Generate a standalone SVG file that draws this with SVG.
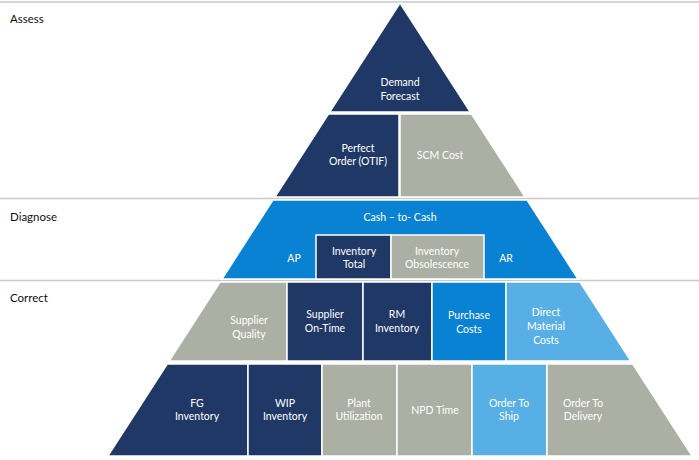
<svg xmlns="http://www.w3.org/2000/svg" width="699" height="460" viewBox="0 0 699 460">
<style>
.nv{fill:#1f3866;stroke:#fff;stroke-width:1.5}
.gr{fill:#abafa4;stroke:#fff;stroke-width:1.5}
.bb{fill:#0a82d4;stroke:#fff;stroke-width:1.5}
.lb{fill:#58afe6;stroke:#fff;stroke-width:1.5}
.sep{stroke:#c9c9c9;stroke-width:1.5}
.t{font-family:Lato,"Open Sans","Liberation Sans",sans-serif;font-size:10.5px;fill:#fff;text-anchor:middle}
.h{font-family:Lato,"Open Sans","Liberation Sans",sans-serif;font-size:11.5px;fill:#111}
</style>
<rect width="699" height="460" fill="#fff"/>
<g id="section-lines">
<line class="sep" x1="0" y1="2" x2="699" y2="2"/>
<line class="sep" x1="0" y1="198.5" x2="699" y2="198.5"/>
<line class="sep" x1="0" y1="280.5" x2="699" y2="280.5"/>
</g>
<g id="labels">
<text class="h" x="10" y="23">Assess</text>
<text class="h" x="10" y="221">Diagnose</text>
<text class="h" x="10" y="302">Correct</text>
</g>
<g id="demand-forecast">
<polygon class="nv" points="400,3 470.3,112 329.7,112"/>
<text class="t" x="400" y="86">Demand</text>
<text class="t" x="400" y="100">Forecast</text>
</g>
<g id="perfect-order">
<polygon class="nv" points="328.4,114 399,114 399,197 274.9,197"/>
<text class="t" x="358" y="152">Perfect</text>
<text class="t" x="358" y="165">Order (OTIF)</text>
</g>
<g id="scm-cost">
<polygon class="gr" points="400,114 471.6,114 525.1,197 400,197"/>
<text class="t" x="440" y="159">SCM Cost</text>
</g>
<g id="cash-to-cash">
<polygon class="bb" points="272.9,200 527.1,200 578,279 222,279"/>
<text class="t" x="400" y="221">Cash – to- Cash</text>
<text class="t" x="294" y="262">AP</text>
<text class="t" x="506" y="262">AR</text>
</g>
<g id="inventory-total">
<rect class="nv" x="316" y="235" width="75" height="44"/>
<text class="t" x="354" y="255">Inventory</text>
<text class="t" x="354" y="268">Total</text>
</g>
<g id="inventory-obsolescence">
<rect class="gr" x="391" y="235" width="93" height="44"/>
<text class="t" x="437" y="255">Inventory</text>
<text class="t" x="437" y="268">Obsolescence</text>
</g>
<g id="supplier-quality">
<polygon class="gr" points="220,282 287,282 287,361 169.1,361"/>
<text class="t" x="249" y="324">Supplier</text>
<text class="t" x="249" y="338">Quality</text>
</g>
<g id="supplier-on-time">
<rect class="nv" x="287" y="282" width="76" height="79"/>
<text class="t" x="325" y="318">Supplier</text>
<text class="t" x="325" y="332">On-Time</text>
</g>
<g id="rm-inventory">
<rect class="nv" x="363" y="282" width="69" height="79"/>
<text class="t" x="397" y="318">RM</text>
<text class="t" x="397" y="332">Inventory</text>
</g>
<g id="purchase-costs">
<rect class="bb" x="432" y="282" width="74" height="79"/>
<text class="t" x="469" y="319">Purchase</text>
<text class="t" x="469" y="333">Costs</text>
</g>
<g id="direct-material-costs">
<polygon class="lb" points="506,282 580,282 630.9,361 506,361"/>
<text class="t" x="546" y="316">Direct</text>
<text class="t" x="546" y="330">Material</text>
<text class="t" x="546" y="344">Costs</text>
</g>
<g id="fg-inventory">
<polygon class="nv" points="167.2,364 248,364 248,456 107.8,456"/>
<text class="t" x="197" y="407">FG</text>
<text class="t" x="197" y="420">Inventory</text>
</g>
<g id="wip-inventory">
<rect class="nv" x="248" y="364" width="74" height="92"/>
<text class="t" x="285" y="407">WIP</text>
<text class="t" x="285" y="420">Inventory</text>
</g>
<g id="plant-utilization">
<rect class="gr" x="322" y="364" width="75" height="92"/>
<text class="t" x="359" y="407">Plant</text>
<text class="t" x="359" y="420">Utilization</text>
</g>
<g id="npd-time">
<rect class="gr" x="397" y="364" width="75" height="92"/>
<text class="t" x="435" y="414">NPD Time</text>
</g>
<g id="order-to-ship">
<rect class="lb" x="472" y="364" width="75" height="92"/>
<text class="t" x="509" y="407">Order To</text>
<text class="t" x="509" y="420">Ship</text>
</g>
<g id="order-to-delivery">
<polygon class="gr" points="547,364 632.8,364 692.2,456 547,456"/>
<text class="t" x="583" y="407">Order To</text>
<text class="t" x="583" y="420">Delivery</text>
</g>
</svg>
